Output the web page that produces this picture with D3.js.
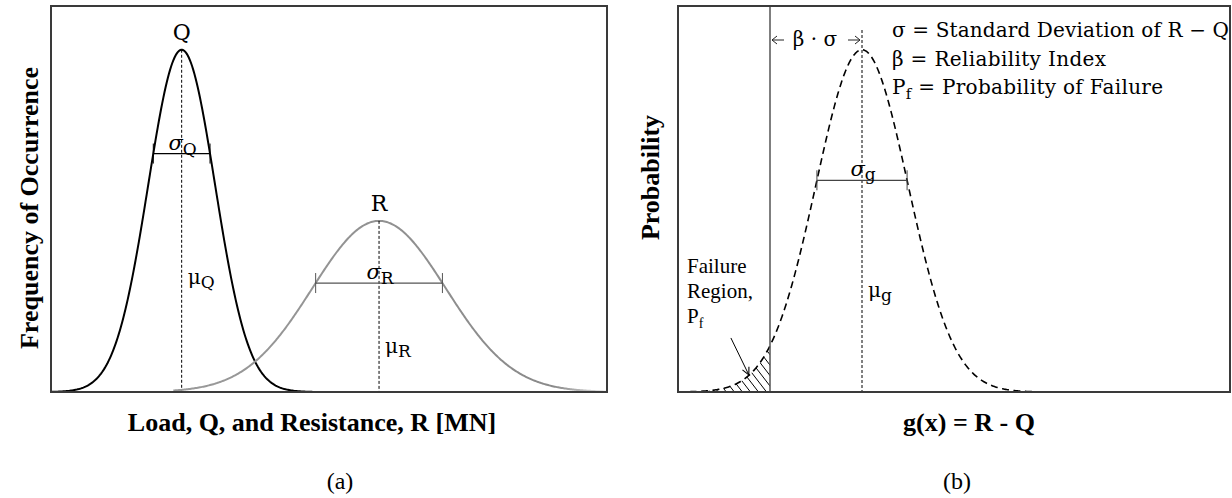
<!DOCTYPE html>
<html><head><meta charset="utf-8">
<script src="https://cdn.jsdelivr.net/npm/d3@7"></script>
<style>body{margin:0;background:#fff}</style>
</head><body><svg id="c" width="1232" height="498"></svg>
<script>
// ---------------- data ----------------
const distNames = ["Q", "R"];
const distMeans = [23.5, 59];            // MN (schematic)
const distSDs = [6, 12];
const distExtents = [[0, 47], [22, 100]];
const distSigmaBar = [0.85, 0.95];       // half-width of sigma bar in SD units
const gNames = ["g"];
const gMeans = [20];
const gSDs = [10];
const gExtents = [[-20, 75]];
const gSigmaBar = [0.98];
const limitState = [0];                  // g = 0
const leftXDomain = [0, 100];
const rightXDomain = [-20, 100];
const leftYDomain = [0, 0.075];
const rightYDomain = [0, 0.045];
const xTitles = ["Load, Q, and Resistance, R [MN]", "g(x) = R - Q"];
const yTitles = ["Frequency of Occurrence", "Probability"];
const panelTags = ["(a)", "(b)"];
const legendSymbols = ["σ", "β", "P"];
const legendSubs = ["", "", "f"];
const legendTexts = ["Standard Deviation of R − Q", "Reliability Index", "Probability of Failure"];
const failureLines = ["Failure", "Region,", "P"];
const pfArrow = [[-8.5, 0.0063], [-4.6, 0.0020]];   // annotation pointer (data units)

// ---------------- styles ----------------
const TIMES = "'Liberation Serif','Times New Roman',serif";
const MATH = "'DejaVu Serif',serif";
const curveColors = ["#000", "#8a8a8a"];
const barColors = ["#000", "#555"];

const svg = d3.select("#c");
const defs = svg.append("defs");

const xL = d3.scaleLinear().domain(leftXDomain).range([51, 607]);
const yL = d3.scaleLinear().domain(leftYDomain).range([392, 6]);
const xR = d3.scaleLinear().domain(rightXDomain).range([678, 1230]);
const yR = d3.scaleLinear().domain(rightYDomain).range([392, 6]);

const pdf = (x, m, s) => Math.exp(-0.5 * ((x - m) / s) ** 2) / (s * Math.sqrt(2 * Math.PI));

const grad = defs.append("linearGradient").attr("id", "rgrad")
  .attr("gradientUnits", "userSpaceOnUse")
  .attr("x1", xL(distExtents[1][0])).attr("x2", xL(distExtents[1][1])).attr("y1", 0).attr("y2", 0);
grad.append("stop").attr("offset", "0").attr("stop-color", "#9a9a9a");
grad.append("stop").attr("offset", "0.88").attr("stop-color", "#8a8a8a");
grad.append("stop").attr("offset", "1").attr("stop-color", "#e6e6e6");

// ---------------- panel (a) ----------------
const gA = svg.append("g");
distNames.forEach((name, i) => {
  const m = distMeans[i], s = distSDs[i];
  const pts = d3.range(distExtents[i][0], distExtents[i][1] + 0.001, 0.2).map(x => [x, pdf(x, m, s)]);
  gA.append("path").attr("d", d3.line().x(d => xL(d[0])).y(d => yL(d[1]))(pts))
    .attr("fill", "none").attr("stroke", i === 1 ? "url(#rgrad)" : curveColors[i]).attr("stroke-width", 2);
  gA.append("line").attr("x1", xL(m)).attr("x2", xL(m)).attr("y1", yL(pdf(m, m, s))).attr("y2", yL(0))
    .attr("stroke", "#000").attr("stroke-width", 1).attr("stroke-dasharray", "3,2");
  const h = distSigmaBar[i] * s, by = yL(pdf(m + h, m, s));
  gA.append("line").attr("x1", xL(m - h)).attr("x2", xL(m + h)).attr("y1", by).attr("y2", by)
    .attr("stroke", barColors[i]).attr("stroke-width", 1.3);
  [m - h, m + h].forEach(x => gA.append("line").attr("x1", xL(x)).attr("x2", xL(x))
    .attr("y1", by - 10).attr("y2", by + 10).attr("stroke", barColors[i]).attr("stroke-width", 1));
  const st = gA.append("text").attr("x", xL(m) + 1).attr("y", by - 4).attr("text-anchor", "middle")
    .attr("font-family", MATH).attr("font-size", 21);
  st.append("tspan").attr("font-style", "italic").text("σ");
  st.append("tspan").attr("font-size", 17).attr("dy", 5).text(name);
  gA.append("text").attr("x", xL(m)).attr("y", yL(pdf(m, m, s)) - 10).attr("text-anchor", "middle")
    .attr("font-family", MATH).attr("font-size", 22).text(name);
});
const muY = [284, 353];
distNames.forEach((name, i) => {
  const t = gA.append("text").attr("x", xL(distMeans[i]) + 6).attr("y", muY[i])
    .attr("font-family", MATH).attr("font-size", 20);
  t.append("tspan").text("μ");
  t.append("tspan").attr("font-size", 17).attr("dy", 4).text(name);
});
gA.append("rect").attr("x", xL.range()[0]).attr("y", yL.range()[1])
  .attr("width", xL.range()[1] - xL.range()[0]).attr("height", yL.range()[0] - yL.range()[1])
  .attr("fill", "none").attr("stroke", "#3a3a3a").attr("stroke-width", 2);

// ---------------- panel (b) ----------------
const gB = svg.append("g");
const gm = gMeans[0], gs = gSDs[0];
const gpts = d3.range(gExtents[0][0], gExtents[0][1] + 0.001, 0.2).map(x => [x, pdf(x, gm, gs)]);
const failPts = gpts.filter(d => d[0] <= limitState[0]);
defs.append("clipPath").attr("id", "failclip").append("path")
  .attr("d", d3.area().x(d => xR(d[0])).y0(yR(0)).y1(d => yR(d[1]))(failPts));
const hatchG = gB.append("g").attr("clip-path", "url(#failclip)");
d3.range(gExtents[0][0], limitState[0] + 8, 1.75).forEach(x => {
  hatchG.append("line").attr("x1", xR(x) - 40).attr("y1", yR(0) - 52).attr("x2", xR(x)).attr("y2", yR(0))
    .attr("stroke", "#000").attr("stroke-width", 1);
});
gB.append("path").attr("d", d3.line().x(d => xR(d[0])).y(d => yR(d[1]))(gpts))
  .attr("fill", "none").attr("stroke", "#000").attr("stroke-width", 1.6).attr("stroke-dasharray", "7,4.5");
gB.append("line").attr("x1", xR(limitState[0])).attr("x2", xR(limitState[0]))
  .attr("y1", yR.range()[1]).attr("y2", yR(0)).attr("stroke", "#555").attr("stroke-width", 1.5);
gB.append("line").attr("x1", xR(gm)).attr("x2", xR(gm)).attr("y1", 30).attr("y2", yR(0))
  .attr("stroke", "#000").attr("stroke-width", 1).attr("stroke-dasharray", "3,2");
{
  const h = gSigmaBar[0] * gs, by = yR(pdf(gm + h, gm, gs));
  gB.append("line").attr("x1", xR(gm - h)).attr("x2", xR(gm + h)).attr("y1", by).attr("y2", by)
    .attr("stroke", "#444").attr("stroke-width", 1.3);
  [gm - h, gm + h].forEach(x => gB.append("line").attr("x1", xR(x)).attr("x2", xR(x))
    .attr("y1", by - 10).attr("y2", by + 10).attr("stroke", "#444").attr("stroke-width", 1));
  const st = gB.append("text").attr("x", xR(gm) + 1).attr("y", by - 4).attr("text-anchor", "middle")
    .attr("font-family", MATH).attr("font-size", 21);
  st.append("tspan").attr("font-style", "italic").text("σ");
  st.append("tspan").attr("font-size", 17).attr("dy", 4).text(gNames[0]);
}
{
  const t = gB.append("text").attr("x", xR(gm) + 6).attr("y", 297)
    .attr("font-family", MATH).attr("font-size", 20);
  t.append("tspan").text("μ");
  t.append("tspan").attr("font-size", 17).attr("dy", 4).text(gNames[0]);
}
// beta * sigma dimension
{
  const x0 = xR(limitState[0]), x1 = xR(gm), ay = 40;
  const arrowPath = (xa, xb) => { // arrow from xa pointing to xb
    const d = xb > xa ? 1 : -1;
    return `M${xa},${ay}L${xb},${ay}M${xb - d * 5},${ay - 4}L${xb},${ay}L${xb - d * 5},${ay + 4}`;
  };
  gB.append("path").attr("d", arrowPath(x0 + 14, x0 + 2)).attr("fill", "none").attr("stroke", "#222").attr("stroke-width", 1);
  gB.append("path").attr("d", arrowPath(x1 - 14, x1 - 2)).attr("fill", "none").attr("stroke", "#222").attr("stroke-width", 1);
  gB.append("text").attr("x", (x0 + x1) / 2 - 1).attr("y", 46).attr("text-anchor", "middle")
    .attr("font-family", MATH).attr("font-size", 20).text("β · σ");
}
// legend
const legendW = [337, 214, 271];
legendSymbols.forEach((sym, i) => {
  const t = gB.append("text").attr("x", 892).attr("y", 37 + i * 28.5)
    .attr("font-family", MATH).attr("font-size", 20)
    .attr("textLength", legendW[i]).attr("lengthAdjust", "spacing");
  t.append("tspan").text(sym);
  if (legendSubs[i]) t.append("tspan").attr("font-size", 15).attr("dy", 5).text(legendSubs[i]);
  t.append("tspan").attr("dy", legendSubs[i] ? -5 : 0).text(" = " + legendTexts[i]);
});
failureLines.forEach((s, i) => {
  const t = gB.append("text").attr("x", 687).attr("y", 273 + i * 25)
    .attr("font-family", TIMES).attr("font-size", 21).text(s);
  if (i === 2) t.append("tspan").attr("font-size", 14).attr("dy", 5).text("f");
});
defs.append("marker").attr("id", "arr").attr("viewBox", "0 0 10 10").attr("refX", 9).attr("refY", 5)
  .attr("markerWidth", 9).attr("markerHeight", 9).attr("orient", "auto").attr("markerUnits", "userSpaceOnUse")
  .append("path").attr("d", "M1,1 L9,5 L1,9").attr("fill", "none").attr("stroke", "#000").attr("stroke-width", 1.2);
gB.append("line").attr("x1", xR(pfArrow[0][0])).attr("y1", yR(pfArrow[0][1]))
  .attr("x2", xR(pfArrow[1][0])).attr("y2", yR(pfArrow[1][1]))
  .attr("stroke", "#000").attr("stroke-width", 1).attr("marker-end", "url(#arr)");
gB.append("rect").attr("x", xR.range()[0]).attr("y", yR.range()[1])
  .attr("width", xR.range()[1] - xR.range()[0]).attr("height", yR.range()[0] - yR.range()[1])
  .attr("fill", "none").attr("stroke", "#3a3a3a").attr("stroke-width", 2);

// ---------------- titles ----------------
const xTitleX = [312, 969];
xTitles.forEach((s, i) => svg.append("text").attr("x", xTitleX[i]).attr("y", 431).attr("text-anchor", "middle")
  .attr("font-family", TIMES).attr("font-weight", "bold").attr("font-size", 26).text(s));
const yTitlePos = [[38, 208], [659, 177.5]];
yTitles.forEach((s, i) => svg.append("text")
  .attr("transform", `translate(${yTitlePos[i][0]},${yTitlePos[i][1]}) rotate(-90)`)
  .attr("text-anchor", "middle").attr("font-family", TIMES).attr("font-weight", "bold").attr("font-size", 26).text(s));
const tagX = [340, 957];
panelTags.forEach((s, i) => svg.append("text").attr("x", tagX[i]).attr("y", 489).attr("text-anchor", "middle")
  .attr("font-family", TIMES).attr("font-size", 24).text(s));
</script></body></html>
